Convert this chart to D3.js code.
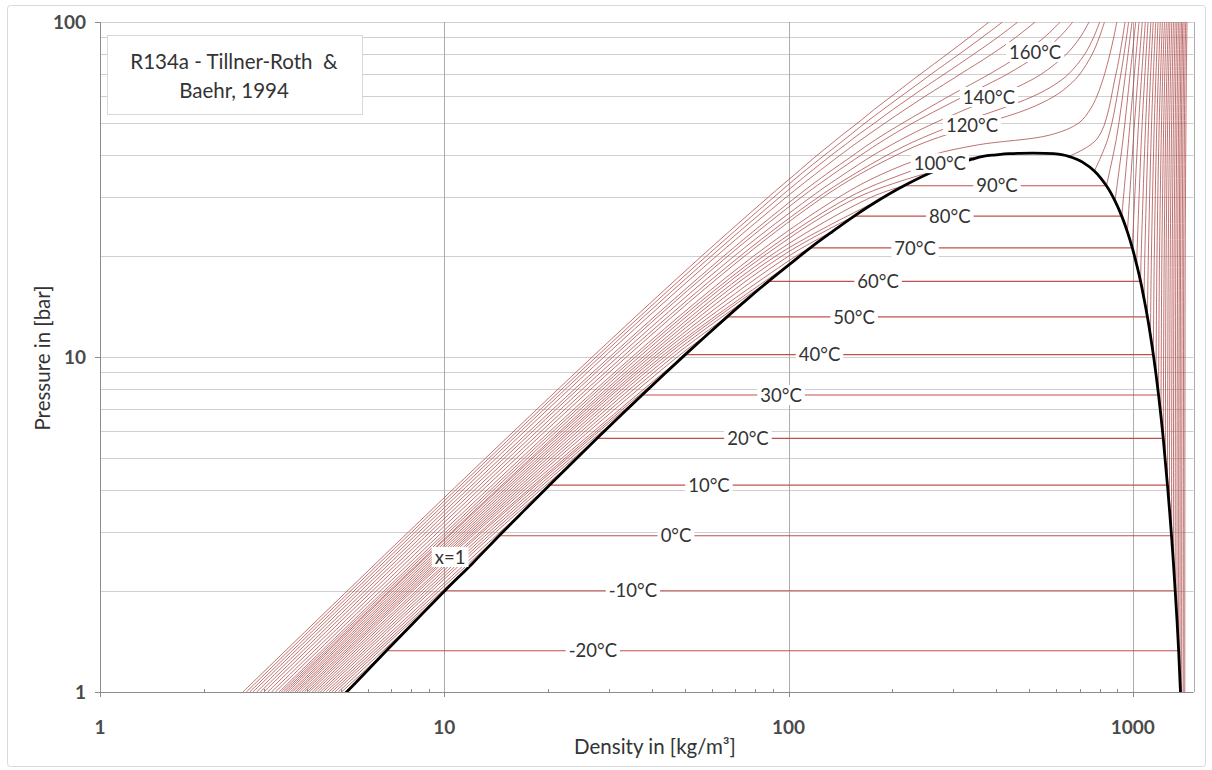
<!DOCTYPE html>
<html><head><meta charset="utf-8">
<script src="https://cdn.jsdelivr.net/npm/d3@7"></script>
<style>
body{margin:0;background:#fff;}
text{font-family:Lato,'Open Sans','Noto Sans',sans-serif;fill:#333;}
</style>
</head><body><svg id="chart" width="1212" height="770"></svg>
<script>
// ---------- data (R134a) ----------
// saturation (dome): temperature °C, pressure bar, liquid / vapour density kg/m3
const satT   = [-40,-35,-30,-25,-20,-15,-10,-5,0,5,10,15,20,25,30,35,40,45,50,55,60,65,70,75,80,85,90,95,98,99,100,100.5,100.9,101.06];
const satP   = [0.5121,0.6614,0.8438,1.0637,1.3273,1.6394,2.006,2.433,2.928,3.4966,4.1461,4.8837,5.7171,6.6538,7.702,8.8698,10.166,11.599,13.179,14.915,16.818,18.898,21.168,23.639,26.332,29.258,32.442,35.912,38.17,38.94,39.724,40.13,40.46,40.593];
const satRhoL= [1414.8,1400.5,1385.9,1371.1,1358.3,1343.4,1327.1,1311.3,1294.8,1277.6,1260.2,1242.1,1225.3,1206.7,1187.5,1167.5,1146.7,1124.8,1102,1077.6,1052.9,1025.2,996.2,964,928.2,887.2,837.8,772.8,714,687,651.2,626,588,511.9];
const satRhoV= [2.77,3.53,4.43,5.52,6.785,8.29,10.035,12.13,14.428,17.13,20.226,23.76,27.78,32.35,37.54,43.42,50.09,57.68,66.27,76.05,87.38,100.6,115.6,133.8,155.1,181.6,216.3,265.8,320,341,367,400,437,511.9];

// superheated-vapour isotherms: densities at pressure levels below saturation
const vapT = [-25,-20,-15,-10,-5,0,5,10,15,20,25,30,35,40,45,50,55,60,65,70,75,80,85,90,95,100];
const vapP = [1,3,10,20,30,35,38];
const vapRho = [
 [5.14],[5.03],[4.92],[4.81],[4.71],[4.62],
 [4.53,14.5],[4.44,14.1],[4.36,13.8],[4.28,13.5],[4.2,13.2],[4.13,12.9],[4.05,12.7],[3.99,12.4],
 [3.92,12.2,47.5],[3.86,12,46.1],[3.79,11.8,44.8],[3.73,11.6,43.6],[3.68,11.4,42.6],
 [3.62,11.2,41.5,105],[3.57,11,40.6,100],[3.51,10.8,39.6,95.5],[3.46,10.6,38.7,91.7],
 [3.41,10.5,37.8,88.2,174],[3.36,10.3,36.8,84.6,159],[3.31,10.1,35.9,82,150,212,272]
];

// compressed-liquid isotherms: densities at pressure levels above saturation
const liqT = [-40,-35,-30,-25,-20,-15,-10,-5,0,5,10,15,20,25,30,35,40,45,50,55,60,65,70,75,80,85,90,95,100];
const liqP = [5,20,45,70,100];
const liqRho = [
 [1416,1419,1425,1430,1436],[1402,1405,1411,1416,1423],[1387,1391,1397,1403,1409],[1372,1376,1383,1389,1396],
 [1359,1364,1370,1377,1384],[1344,1349,1356,1363,1371],[1328,1333,1341,1348,1356],[1312,1317,1326,1333,1342],
 [1296,1301,1310,1318,1327],[1278,1284,1294,1302,1312],[1261,1267,1277,1286,1297],
 [1249,1260,1270,1281],[1233,1244,1255,1267],[1214,1227,1238,1251],[1195,1209,1221,1235],[1175,1190,1204,1218],
 [1154,1171,1186,1201],[1132,1151,1167,1183],[1109,1130,1147,1165],[1083,1107,1126,1146],[1057,1085,1106,1128],
 [1059,1084,1107],[1033,1061,1087],[1004,1036,1065],[973,1010,1042],[937,982,1019],[896,952,994],[847,923,972],[790,893,949]
];

// supercritical isotherms
const supT = [110,120,130,140,150,160,170,180,190,200];
const supP = [1,3,10,20,30,35,40,43,46,50,55,60,65,70,80,90,100];
const supRho = [
 [3.23,9.86,35.1,79.1,140,185,259,356,575,697,753,786,809,828,857,880,898],
 [3.15,9.59,33.8,74.5,126,160,205,239,286,374,496,591,656,702,761,799,827],
 [3.07,9.33,32.9,72.3,122,154,193,221,256,315,412,513,593,651,724,769,801],
 [2.99,9.09,31.9,69.5,116,144,176,199,225,266,329,403,477,543,640,703,746],
 [2.92,8.86,30.9,66.6,109,134,162,180,200,230,274,323,377,433,533,611,669],
 [2.85,8.64,30.2,64.8,105,128,154,170,188,215,252,292,337,384,475,553,615],
 [2.78,8.43,29.1,61.7,98.5,119,141,155,170,191,219,249,282,316,388,457,520],
 [2.72,8.23,28.3,59.6,94.3,113,133,146,159,178,202,228,255,284,344,405,463],
 [2.66,8.04,27.6,57.7,90.6,108,127,139,151,167,189,212,236,260,312,365,418],
 [2.6,7.86,26.9,55.9,87.3,104,121,132,143,159,178,199,220,242,288,335,382]
];

// labelled two-phase isotherms
const twoPhaseT = [-20,-10,0,10,20,30,40,50,60,70,80,90];
// isotherm labels: text, density and pressure of the label centre
const labelText = ['-20°C','-10°C','0°C','10°C','20°C','30°C','40°C','50°C','60°C','70°C','80°C','90°C','100°C','120°C','140°C','160°C','x=1'];
const labelRho  = [27.0,35.3,47.1,58.7,76.2,95.1,123,155,182,233,294,403,275,341,382,520,10.4];
const labelP    = [1.3273,2.006,2.928,4.1461,5.7171,7.702,10.166,13.179,16.818,21.168,26.332,32.442,37.9,49.3,59.7,81.4,2.53];

const xTicks = [1,10,100,1000];
const yTicks = [1,10,100];
const titleLines = ['R134a - Tillner-Roth\u00a0 &','Baehr, 1994'];
const xTitle = 'Density in [kg/m³]';
const yTitle = 'Pressure in [bar]';

// ---------- chart ----------
const svg = d3.select('#chart');
const L=100, R=1193.5, T=22, B=692;
const x = d3.scaleLog().domain([1,1500]).range([L,R]);
const y = d3.scaleLog().domain([1,100]).range([B,T]);

svg.append('rect').attr('x',7.5).attr('y',5.5).attr('width',1198).attr('height',761).attr('rx',3)
   .attr('fill','#fff').attr('stroke','#d9d9d9');

// gridlines
const hGrid = [];
[1,10].forEach(e=>d3.range(1,10).forEach(m=>hGrid.push(m*e))); hGrid.push(100);
svg.append('g').selectAll('line').data(hGrid).join('line')
  .attr('x1',L).attr('x2',R).attr('y1',d=>Math.round(y(d))+0.5).attr('y2',d=>Math.round(y(d))+0.5)
  .attr('stroke','#cfcfcf').attr('stroke-width',1);
svg.append('g').selectAll('line').data([10,100,1000,1500]).join('line')
  .attr('y1',T).attr('y2',B).attr('x1',d=>Math.round(x(d))+0.5).attr('x2',d=>Math.round(x(d))+0.5)
  .attr('stroke','#acacac').attr('stroke-width',1);

svg.append('defs').append('clipPath').attr('id','plot').append('rect')
  .attr('x',L).attr('y',T).attr('width',R-L).attr('height',B-T);
const plot = svg.append('g').attr('clip-path','url(#plot)');

const idx = t => satT.indexOf(t);
const isoLines = [];
vapT.forEach((t,i)=>{const Ps=satP[idx(t)];
  const lv = vapP.filter(p=>p<0.97*Ps);
  const pts = lv.map((p,k)=>[vapRho[i][k],p]); pts.push([satRhoV[idx(t)],Ps]); isoLines.push(pts);});
liqT.forEach((t,i)=>{const Ps=satP[idx(t)];
  const lv = liqP.filter(p=>p>1.1*Ps);
  const pts = [[satRhoL[idx(t)],Ps]].concat(lv.map((p,k)=>[liqRho[i][k],p])); isoLines.push(pts);});
supT.forEach((t,i)=>isoLines.push(supP.map((p,k)=>[supRho[i][k],p])));

const line = d3.line().x(d=>x(d[0])).y(d=>y(d[1])).curve(d3.curveCatmullRom.alpha(0.5));
plot.append('g').selectAll('path').data(isoLines).join('path')
  .attr('d',line).attr('fill','none').attr('stroke','#ab4644').attr('stroke-width',0.9).attr('stroke-opacity',0.85);

plot.append('g').selectAll('line').data(twoPhaseT).join('line')
  .attr('x1',t=>x(satRhoV[idx(t)])).attr('x2',t=>x(satRhoL[idx(t)]))
  .attr('y1',t=>y(satP[idx(t)])).attr('y2',t=>y(satP[idx(t)]))
  .attr('stroke','#c0504d').attr('stroke-width',1.1);

const dome = satRhoV.map((r,i)=>[r,satP[i]]).concat(satRhoL.map((r,i)=>[r,satP[i]]).reverse());
plot.append('path').attr('d',line(dome)).attr('fill','none').attr('stroke','#000').attr('stroke-width',2.8);

// axes
svg.append('line').attr('x1',L+0.5).attr('x2',L+0.5).attr('y1',T).attr('y2',B+5).attr('stroke','#8c8c8c');
svg.append('line').attr('x1',L-5).attr('x2',R).attr('y1',B+0.5).attr('y2',B+0.5).attr('stroke','#8c8c8c');
svg.append('g').selectAll('line').data(yTicks).join('line')
  .attr('x1',L-5).attr('x2',L).attr('y1',d=>Math.round(y(d))+0.5).attr('y2',d=>Math.round(y(d))+0.5).attr('stroke','#8c8c8c');
const xMinor=[];[1,10,100].forEach(e=>d3.range(2,10).forEach(m=>{if(m*e<1500)xMinor.push(m*e);}));
svg.append('g').selectAll('line').data(xMinor).join('line')
  .attr('x1',d=>Math.round(x(d))+0.5).attr('x2',d=>Math.round(x(d))+0.5).attr('y1',B-3).attr('y2',B).attr('stroke','#8c8c8c');
svg.append('g').selectAll('line').data(xTicks).join('line')
  .attr('x1',d=>Math.round(x(d))+0.5).attr('x2',d=>Math.round(x(d))+0.5).attr('y1',B).attr('y2',B+5).attr('stroke','#8c8c8c');

svg.append('g').selectAll('text').data(yTicks).join('text')
  .attr('x',86).attr('y',d=>y(d)+7).attr('text-anchor','end')
  .style('font-size','19px').style('font-weight','bold').style('fill','#4a4a4a').text(d=>d);
svg.append('g').selectAll('text').data(xTicks).join('text')
  .attr('x',d=>x(d)).attr('y',734).attr('text-anchor','middle')
  .style('font-size','19px').style('font-weight','bold').style('fill','#4a4a4a').text(d=>d);
svg.append('text').attr('x',655).attr('y',754).attr('text-anchor','middle').style('font-size','20.5px').text(xTitle);
svg.append('text').attr('transform','translate(50,358) rotate(-90)').attr('text-anchor','middle').style('font-size','20.5px').text(yTitle);

// isotherm labels with white boxes
const lg = svg.append('g');
labelText.forEach((s,i)=>{
  const g = lg.append('g').attr('transform',`translate(${x(labelRho[i])},${y(labelP[i])})`);
  const t = g.append('text').attr('text-anchor','middle').attr('dy','0.36em').style('font-size','18.5px').text(s);
  const bb = t.node().getBBox();
  g.insert('rect','text').attr('x',bb.x-3).attr('y',-10).attr('width',bb.width+6).attr('height',20).attr('fill','#fff');
});

// title box
svg.append('rect').attr('x',107.5).attr('y',35.5).attr('width',255).attr('height',79).attr('fill','#fff').attr('stroke','#d9d9d9');
svg.append('g').selectAll('text').data(titleLines).join('text')
  .attr('x',234).attr('y',(d,i)=>69+i*29).attr('text-anchor','middle').style('font-size','20.5px').text(d=>d);
</script></body></html>
